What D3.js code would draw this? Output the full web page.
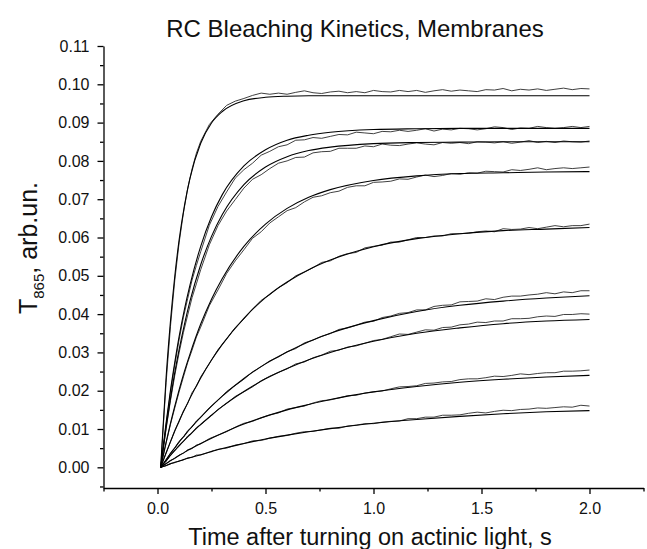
<!DOCTYPE html>
<html><head><meta charset="utf-8">
<script src="https://cdn.jsdelivr.net/npm/d3@7"></script>
<style>body{margin:0;background:#fff} svg text{font-family:"Liberation Sans",Arial,sans-serif;fill:#111}</style>
</head><body><svg id="c" width="647" height="549"></svg>
<script>
// ---- data ----
const titleText = "RC Bleaching Kinetics, Membranes";
const xLabel = "Time after turning on actinic light, s";
const xMajor = [0.0, 0.5, 1.0, 1.5, 2.0];
const xMinor = [-0.25, 0.25, 0.75, 1.25, 1.75, 2.25];
const yMajor = [0.00,0.01,0.02,0.03,0.04,0.05,0.06,0.07,0.08,0.09,0.10,0.11];
const yMinor = [-0.005,0.005,0.015,0.025,0.035,0.045,0.055,0.065,0.075,0.085,0.095,0.105];

// measured traces (time, s)
const dataT = [0.015,0.02,0.04,0.06,0.08,0.10,0.12,0.14,0.16,0.18,0.20,0.24,0.28,0.32,0.36,0.40,0.44,0.48,0.52,0.56,0.60,0.64,0.68,0.72,0.76,0.80,0.84,0.88,0.92,0.96,1.00,1.04,1.08,1.12,1.16,1.20,1.24,1.28,1.32,1.36,1.40,1.44,1.48,1.52,1.56,1.60,1.64,1.68,1.72,1.76,1.80,1.84,1.88,1.92,1.96,2.00];
const data1 = [0,0.0046,0.0222,0.0368,0.0488,0.0586,0.0664,0.0729,0.0779,0.0820,0.0851,0.0895,0.0922,0.0945,0.0956,0.0963,0.0971,0.0977,0.0974,0.0977,0.0974,0.0979,0.0983,0.0978,0.0976,0.0980,0.0982,0.0978,0.0981,0.0978,0.0984,0.0981,0.0980,0.0984,0.0981,0.0984,0.0979,0.0983,0.0986,0.0982,0.0985,0.0983,0.0981,0.0986,0.0985,0.0989,0.0983,0.0987,0.0985,0.0988,0.0984,0.0987,0.0990,0.0986,0.0989,0.0988];
const data2 = [0,0.0023,0.0112,0.0195,0.0268,0.0333,0.0392,0.0441,0.0489,0.0527,0.0563,0.0632,0.0681,0.0719,0.0755,0.0777,0.0794,0.0815,0.0825,0.0837,0.0842,0.0854,0.0855,0.0861,0.0859,0.0864,0.0869,0.0868,0.0875,0.0873,0.0871,0.0877,0.0876,0.0880,0.0877,0.0880,0.0884,0.0878,0.0883,0.0881,0.0885,0.0884,0.0881,0.0884,0.0889,0.0887,0.0882,0.0886,0.0885,0.0890,0.0887,0.0885,0.0887,0.0890,0.0887,0.0890];
const data3 = [0,0.0021,0.0101,0.0174,0.0240,0.0299,0.0352,0.0398,0.0443,0.0479,0.0516,0.0581,0.0631,0.0669,0.0699,0.0729,0.0752,0.0764,0.0780,0.0794,0.0800,0.0809,0.0810,0.0821,0.0824,0.0825,0.0833,0.0833,0.0833,0.0839,0.0837,0.0844,0.0841,0.0840,0.0844,0.0847,0.0844,0.0842,0.0848,0.0846,0.0848,0.0845,0.0850,0.0849,0.0847,0.0850,0.0846,0.0849,0.0853,0.0848,0.0851,0.0848,0.0852,0.0850,0.0849,0.0852];
const data4 = [0,0.0013,0.0063,0.0112,0.0155,0.0197,0.0236,0.0274,0.0306,0.0340,0.0366,0.0422,0.0463,0.0506,0.0539,0.0568,0.0598,0.0615,0.0638,0.0654,0.0670,0.0678,0.0693,0.0705,0.0709,0.0717,0.0721,0.0731,0.0735,0.0735,0.0744,0.0745,0.0747,0.0753,0.0752,0.0758,0.0763,0.0759,0.0762,0.0767,0.0765,0.0769,0.0768,0.0773,0.0772,0.0771,0.0777,0.0775,0.0778,0.0782,0.0777,0.0780,0.0782,0.0780,0.0782,0.0784];
const data5 = [0,0.0008,0.0037,0.0066,0.0096,0.0119,0.0147,0.0167,0.0195,0.0211,0.0236,0.0271,0.0307,0.0335,0.0365,0.0387,0.0413,0.0436,0.0451,0.0469,0.0482,0.0500,0.0510,0.0521,0.0535,0.0539,0.0551,0.0558,0.0561,0.0573,0.0577,0.0580,0.0588,0.0588,0.0594,0.0600,0.0600,0.0604,0.0604,0.0610,0.0610,0.0611,0.0615,0.0617,0.0615,0.0623,0.0621,0.0622,0.0626,0.0623,0.0627,0.0631,0.0628,0.0631,0.0631,0.0635];
const data6 = [0,0.0004,0.0019,0.0037,0.0050,0.0068,0.0079,0.0096,0.0105,0.0121,0.0130,0.0155,0.0175,0.0198,0.0214,0.0230,0.0249,0.0263,0.0278,0.0288,0.0302,0.0310,0.0325,0.0332,0.0342,0.0349,0.0360,0.0364,0.0371,0.0379,0.0381,0.0391,0.0395,0.0402,0.0404,0.0411,0.0411,0.0420,0.0423,0.0424,0.0432,0.0433,0.0434,0.0440,0.0438,0.0444,0.0447,0.0447,0.0450,0.0452,0.0456,0.0453,0.0458,0.0456,0.0461,0.0461];
const data7 = [0,0.0004,0.0016,0.0032,0.0043,0.0058,0.0067,0.0082,0.0090,0.0104,0.0111,0.0131,0.0151,0.0167,0.0185,0.0197,0.0210,0.0226,0.0238,0.0248,0.0257,0.0270,0.0275,0.0286,0.0293,0.0303,0.0306,0.0314,0.0317,0.0324,0.0331,0.0334,0.0341,0.0348,0.0347,0.0353,0.0359,0.0358,0.0365,0.0366,0.0372,0.0374,0.0379,0.0378,0.0382,0.0382,0.0388,0.0388,0.0389,0.0393,0.0395,0.0394,0.0399,0.0399,0.0401,0.0400];
const data8 = [0,0.0002,0.0009,0.0018,0.0023,0.0032,0.0037,0.0046,0.0049,0.0058,0.0061,0.0075,0.0084,0.0093,0.0105,0.0115,0.0120,0.0129,0.0137,0.0142,0.0152,0.0156,0.0160,0.0168,0.0174,0.0176,0.0181,0.0187,0.0188,0.0194,0.0197,0.0199,0.0205,0.0210,0.0211,0.0213,0.0219,0.0220,0.0223,0.0224,0.0229,0.0231,0.0231,0.0234,0.0238,0.0237,0.0240,0.0244,0.0242,0.0245,0.0247,0.0247,0.0251,0.0251,0.0252,0.0254];
const data9 = [0,0.0001,0.0004,0.0010,0.0012,0.0017,0.0019,0.0025,0.0026,0.0032,0.0032,0.0040,0.0047,0.0050,0.0058,0.0062,0.0069,0.0070,0.0076,0.0081,0.0083,0.0089,0.0093,0.0094,0.0098,0.0102,0.0102,0.0108,0.0110,0.0114,0.0114,0.0118,0.0120,0.0121,0.0127,0.0127,0.0131,0.0131,0.0136,0.0136,0.0137,0.0141,0.0144,0.0142,0.0146,0.0149,0.0148,0.0151,0.0152,0.0155,0.0154,0.0156,0.0158,0.0157,0.0162,0.0160];

// fitted curves (time, s)
const fitT = [0.015,0.02,0.04,0.06,0.08,0.10,0.125,0.15,0.2,0.25,0.3,0.4,0.5,0.6,0.7,0.8,1.0,1.2,1.4,1.6,1.8,2.0];
const fit1 = [0,0.0052,0.0236,0.0381,0.0499,0.0593,0.0684,0.0754,0.0846,0.0899,0.0929,0.0957,0.0966,0.0969,0.0970,0.0970,0.0970,0.0970,0.0970,0.0970,0.0970,0.0970];
const fit2 = [0,0.0025,0.0117,0.0201,0.0274,0.0341,0.0413,0.0475,0.0577,0.0654,0.0712,0.0787,0.0829,0.0854,0.0867,0.0875,0.0882,0.0884,0.0885,0.0885,0.0885,0.0885];
const fit3 = [0,0.0022,0.0105,0.0179,0.0247,0.0307,0.0374,0.0433,0.0529,0.0603,0.0660,0.0738,0.0784,0.0811,0.0827,0.0836,0.0845,0.0848,0.0849,0.0850,0.0850,0.0850];
const fit4 = [0,0.0014,0.0066,0.0115,0.0160,0.0202,0.0251,0.0295,0.0374,0.0439,0.0493,0.0577,0.0635,0.0676,0.0705,0.0725,0.0749,0.0761,0.0767,0.0769,0.0771,0.0772];
const fit5 = [0,0.0008,0.0038,0.0067,0.0095,0.0121,0.0151,0.0180,0.0233,0.0280,0.0321,0.0389,0.0443,0.0484,0.0516,0.0541,0.0576,0.0597,0.0610,0.0618,0.0622,0.0626];
const fit6 = [0,0.0004,0.0020,0.0036,0.0051,0.0066,0.0083,0.0100,0.0131,0.0160,0.0186,0.0232,0.0270,0.0301,0.0328,0.0350,0.0383,0.0407,0.0423,0.0434,0.0442,0.0448];
const fit7 = [0,0.0004,0.0017,0.0031,0.0044,0.0056,0.0071,0.0085,0.0112,0.0136,0.0159,0.0198,0.0231,0.0258,0.0281,0.0300,0.0329,0.0350,0.0364,0.0375,0.0382,0.0386];
const fit8 = [0,0.0002,0.0010,0.0017,0.0024,0.0031,0.0039,0.0047,0.0062,0.0076,0.0089,0.0113,0.0133,0.0150,0.0164,0.0177,0.0197,0.0211,0.0222,0.0230,0.0236,0.0240];
const fit9 = [0,0.0001,0.0005,0.0009,0.0013,0.0016,0.0021,0.0025,0.0033,0.0041,0.0049,0.0062,0.0074,0.0084,0.0093,0.0101,0.0115,0.0125,0.0133,0.0140,0.0145,0.0148];

const dataSeries = [data1,data2,data3,data4,data5,data6,data7,data8,data9];
const fitSeries = [fit1,fit2,fit3,fit4,fit5,fit6,fit7,fit8,fit9];

// ---- drawing ----
const svg = d3.select("#c");
const x = d3.scaleLinear().domain([-0.25, 2.25]).range([103.5, 643.5]);
const y = d3.scaleLinear().domain([-0.0054, 0.11]).range([488, 46]);

const pairs = (ts, vs) => vs.map((v, i) => [ts[i], v]).filter(p => p[0] !== undefined);

const dataLine = d3.line().x(d => x(d[0])).y(d => y(d[1]));
const fitLine = d3.line().x(d => x(d[0])).y(d => y(d[1])).curve(d3.curveMonotoneX);

const plot = svg.append("g");
dataSeries.forEach(s => {
  plot.append("path").attr("d", dataLine(pairs(dataT, s)))
    .attr("fill", "none").attr("stroke", "#2a2a2a").attr("stroke-width", 0.9).attr("stroke-linejoin", "round");
});
fitSeries.forEach(s => {
  plot.append("path").attr("d", fitLine(pairs(fitT, s)))
    .attr("fill", "none").attr("stroke", "#000").attr("stroke-width", 1.1);
});

// axes
const fmtY = d3.format(".2f"), fmtX = d3.format(".1f");
const gy = svg.append("g").attr("transform", "translate(103.5,0)")
  .call(d3.axisLeft(y).tickValues(yMajor).tickFormat(fmtY).tickSize(6).tickSizeOuter(0).tickPadding(8));
const gyMin = svg.append("g").attr("transform", "translate(103.5,0)")
  .call(d3.axisLeft(y).tickValues(yMinor).tickFormat("").tickSize(3.5).tickSizeOuter(0));
gyMin.select(".domain").remove();
const gx = svg.append("g").attr("transform", "translate(0,488)")
  .call(d3.axisBottom(x).tickValues(xMajor).tickFormat(fmtX).tickSize(6).tickSizeOuter(0).tickPadding(9));
const gxMin = svg.append("g").attr("transform", "translate(0,488)")
  .call(d3.axisBottom(x).tickValues(xMinor).tickFormat("").tickSize(3.5).tickSizeOuter(0));
gxMin.select(".domain").remove();

svg.selectAll(".domain").attr("stroke", "#000").attr("stroke-width", 1.3);
svg.selectAll(".tick line").attr("stroke", "#000").attr("stroke-width", 1.3);
svg.selectAll(".tick text").attr("font-family", '"Liberation Sans", Arial, sans-serif')
  .attr("font-size", 16).attr("fill", "#111");

// title and labels
svg.append("text").attr("x", 355).attr("y", 37).attr("text-anchor", "middle")
  .attr("font-size", 24).text(titleText);
svg.append("text").attr("x", 370).attr("y", 545).attr("text-anchor", "middle")
  .attr("font-size", 23.5).text(xLabel);
const yl = svg.append("text").attr("transform", "translate(37,248) rotate(-90)")
  .attr("text-anchor", "middle").attr("font-size", 25);
yl.append("tspan").text("T");
yl.append("tspan").attr("font-size", 15).attr("dy", 7).text("865");
yl.append("tspan").attr("dy", -7).text(", arb.un.");
</script></body></html>
